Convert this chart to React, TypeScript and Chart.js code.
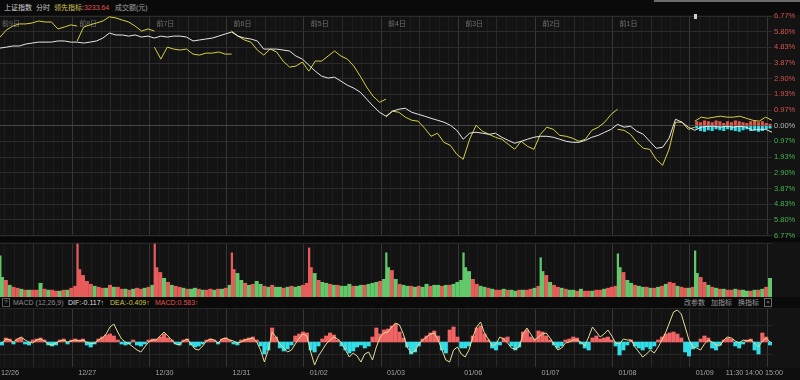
import React, { useEffect, useRef } from "react";
import { Chart, registerables } from "chart.js";

Chart.register(...registerables);

// ---------------- data ----------------
const DATES = ["12/26", "12/27", "12/30", "12/31", "01/02", "01/03", "01/06", "01/07", "01/08", "01/09"];
const DAY_TAGS = ["前9日", "前8日", "前7日", "前6日", "前5日", "前4日", "前3日", "前2日", "前1日"];
const TIME_LABELS = ["11:30", "14:00", "15:00"];
const TIME_LABEL_MIN = [2280, 2310, 2400];
const PCT_LABELS = ["6.77%", "5.80%", "4.83%", "3.87%", "2.90%", "1.93%", "0.97%", "0.00%", "0.97%", "1.93%", "2.90%", "3.87%", "4.83%", "5.80%", "6.77%"];
const PCT_MAX = 6.77;

// 上证指数 (white), % vs. reference close, one value every 20 minutes
const IDX_1226 = [4.79, 4.85, 4.92, 4.92, 5.04, 5.10, 5.16, 5.16, 5.16, 5.23, 5.23, 5.16];
const IDX_1227 = [5.16, 5.10, 5.16, 5.23, 5.41, 5.72, 5.60, 5.60, 5.53, 5.60, 5.47, 5.53];
const IDX_1230 = [5.41, 5.53, 5.47, 5.53, 5.53, 5.47, 5.23, 5.29, 5.35, 5.41, 5.53, 5.66];
const IDX_1231 = [5.78, 5.53, 5.41, 5.35, 5.23, 4.73, 4.73, 4.73, 4.67, 4.61, 4.30, 4.11];
const IDX_0102 = [3.74, 3.37, 3.06, 2.94, 3.00, 2.75, 2.50, 2.32, 2.07, 1.64, 1.21, 0.83];
const IDX_0103 = [0.59, 0.90, 1.02, 1.08, 0.83, 0.71, 0.59, 0.46, 0.34, 0.22, 0.03, -0.28];
const IDX_0106 = [-0.83, -0.46, -0.40, -0.46, -0.53, -0.46, -0.71, -0.90, -1.08, -0.96, -0.83, -0.71];
const IDX_0107 = [-0.65, -0.65, -0.71, -0.83, -0.96, -1.02, -1.02, -0.90, -0.71, -0.59, -0.40, -0.22];
const IDX_0108 = [0.09, -0.09, -0.03, -0.34, -0.53, -0.96, -1.39, -1.33, -0.77, 0.40, 0.22, -0.09];
const IDX_0109 = [-0.28, -0.09, -0.03, -0.03, -0.09, -0.03, -0.09, -0.03, -0.09, -0.28, -0.22, -0.22, -0.40];

// 领先指标 (yellow), one value every 20 minutes (incl. close)
const LEAD_1226 = [5.47, 5.91, 6.15, 6.28, 6.28, 6.34, 6.46, 6.40, 6.40, 5.97, 6.09, 6.22, 6.15];
const LEAD_1227 = [5.23, 6.09, 6.22, 6.34, 6.46, 6.72, 6.65, 6.52, 6.40, 6.15, 5.84, 5.97, 5.84];
const LEAD_1230 = [4.85, 4.11, 4.85, 4.73, 4.67, 4.73, 4.42, 4.36, 4.48, 4.48, 4.55, 4.42, 4.42];
const LEAD_1231 = [5.84, 5.53, 5.29, 5.16, 4.67, 4.36, 4.73, 4.55, 3.99, 3.62, 3.68, 3.93, 3.37];
const LEAD_0102 = [3.37, 3.99, 3.99, 4.30, 4.61, 4.30, 4.11, 3.68, 3.06, 2.38, 1.82, 1.45, 1.64];
const LEAD_0103 = [0.53, 0.90, 0.83, 0.53, 0.34, 0.28, -0.15, -0.65, -0.46, -1.02, -1.21, -1.76, -2.07];
const LEAD_0106 = [-2.07, -0.83, 0.03, -0.34, -0.53, -0.71, -0.83, -1.14, -1.45, -0.96, -1.27, -1.45, -0.53];
const LEAD_0107 = [-0.53, -0.09, -0.22, -0.59, -0.65, -0.77, -0.96, -0.83, -0.28, -0.09, 0.22, 0.71, 1.02];
const LEAD_0108 = [-0.22, -0.28, -0.53, -1.02, -1.39, -1.45, -2.07, -2.44, -1.45, 0.22, 0.22, -0.22, -0.09];
const LEAD_0109 = [0.28, 0.53, 0.46, 0.53, 0.59, 0.53, 0.53, 0.59, 0.46, 0.34, 0.28, 0.53, 0.34];

// today's red / cyan strength bars (every 12 minutes)
const TODAY_UP = [0.25, 0.2, 0.3, 0.25, 0.2, 0.3, 0.25, 0.15, 0.25, 0.2, 0.3, 0.25, 0.2, 0.15, 0.25, 0.3, 0.2, 0.25, 0.15, 0.1];
const TODAY_DN = [-0.15, -0.3, -0.35, -0.25, -0.3, -0.2, -0.25, -0.3, -0.2, -0.25, -0.3, -0.35, -0.25, -0.2, -0.3, -0.25, -0.35, -0.3, -0.2, -0.15];

// 成交额: opening-minute spike per day and 12-minute buckets
const VOL_OPEN = [42, 54, 54, 45, 50, 45, 45, 40, 44, 47];
const VOL_OPEN_UP = "0111100000";
const VOL_1226 = [20, 17, 12, 10, 9, 8, 7, 7, 7, 7, 14, 8, 7, 7, 6, 6, 7, 7, 9, 11];
const VOL_1227 = [28, 22, 16, 13, 11, 10, 9, 9, 12, 10, 10, 8, 8, 7, 8, 9, 8, 9, 10, 12];
const VOL_1230 = [30, 25, 19, 15, 12, 11, 10, 9, 8, 8, 9, 8, 7, 7, 8, 7, 8, 8, 9, 12];
const VOL_1231 = [28, 24, 17, 14, 12, 13, 16, 13, 11, 10, 12, 10, 10, 9, 10, 11, 10, 11, 12, 14];
const VOL_0102 = [30, 24, 17, 15, 14, 13, 12, 12, 11, 11, 13, 11, 11, 12, 12, 13, 14, 15, 16, 18];
const VOL_0103 = [30, 27, 18, 13, 12, 11, 11, 10, 11, 10, 13, 11, 12, 12, 11, 12, 12, 13, 15, 17];
const VOL_0106 = [30, 26, 18, 13, 11, 10, 9, 8, 7, 7, 8, 7, 7, 6, 7, 7, 7, 8, 9, 11];
const VOL_0107 = [26, 22, 15, 12, 10, 9, 8, 7, 7, 6, 8, 6, 6, 6, 7, 7, 8, 9, 10, 11];
const VOL_0108 = [30, 25, 17, 14, 12, 11, 10, 10, 9, 9, 10, 11, 13, 15, 14, 11, 10, 9, 9, 10];
const VOL_0109 = [24, 20, 15, 12, 10, 9, 8, 8, 7, 7, 8, 7, 7, 6, 6, 7, 7, 8, 10, 19];
const VOL_UP = [
  "01011010110101101011", "11110110101101011010", "11010110100101101010", "10010100101001010011",
  "10100101000100100010", "01010010100100101000", "00110010110100101101", "01011010010110110111",
  "01001001010101101101", "01101010110100101010",
];

// MACD histogram and signal line (every 12 minutes)
const HIST_1226 = [-3, 4, 3, -2, 3, 4, -2, -3, 2, 3, 4, 2, -3, -4, -3, 2, 3, -2, 2, 3];
const HIST_1227 = [2, 3, -3, -5, -2, 3, 5, 7, 8, 6, 2, -2, -3, -2, 2, -3, -4, -2, 2, 3];
const HIST_1230 = [3, 5, 8, 4, 2, -2, -3, 2, 3, -3, -5, -4, -2, 2, 3, 2, -2, 3, 4, 2];
const HIST_1231 = [-2, -3, 2, 3, 4, 5, 2, -4, -12, -8, 14, 5, -6, -9, -7, -3, 6, 8, 10, 9];
const HIST_0102 = [-8, -10, -4, 3, 6, 9, 7, 2, -4, -8, -11, -9, -5, -3, -6, -4, 5, 14, 8, 12];
const HIST_0103 = [13, 16, 18, 10, 4, -5, -12, -10, -4, 3, 6, 9, 11, 6, -8, -11, 12, 15, 5, -6];
const HIST_0106 = [-6, -4, 6, 14, 16, 8, 2, -6, -8, -3, 4, 5, -4, -8, -5, 10, 12, 5, 3, 11];
const HIST_0107 = [10, 6, 2, -3, -6, -4, 2, 3, 5, 4, -2, -6, -8, 4, 6, 3, 4, 5, 2, -4];
const HIST_0108 = [-13, -8, -3, 2, -4, -6, -8, -5, -7, -4, 2, 5, 8, 9, 10, 8, 4, -10, -14, -7];
const HIST_0109 = [-5, 3, 6, 4, -6, -8, -3, 2, 4, 3, -4, -6, -2, 2, 3, -8, -12, 9, 5, -3];

const SIG_1226 = [-1, 3, 2, 0, 3, 5, 2, 0, -1, 2, 3, 1, -2, -3, -1, 1, 2, 0, 1, 2];
const SIG_1227 = [1, 2, 0, -2, -1, 2, 4, 8, 15, 18, 10, 3, 0, -2, -5, -8, -10, -5, 0, 2];
const SIG_1230 = [2, 6, 10, 6, 2, -2, -3, 1, 3, -2, -7, -8, -4, 1, 3, 2, -1, 3, 4, 2];
const SIG_1231 = [1, -1, 0, 2, 3, 4, 0, -8, -20, -8, 10, 5, -2, -6, -10, -8, -2, 4, 8, 6];
const SIG_0102 = [-10, -23, -14, -8, -2, 2, 5, 3, -1, -8, -15, -11, -14, -20, -12, -10, -18, -5, 5, 9];
const SIG_0103 = [10, 15, 19, 17, 8, -5, -11, -9, -2, 2, 5, 8, 9, 2, -8, -18, -20, -8, -5, -12];
const SIG_0106 = [-15, -8, 5, 15, 20, 9, 3, -4, -2, 5, 3, -1, -6, -7, -5, 8, 14, 8, 2, 5];
const SIG_0107 = [8, 9, 4, -2, -8, -6, -1, 0, 2, 2, 0, -4, 5, 15, 10, 5, 8, 12, 6, -1];
const SIG_0108 = [-2, 3, 2, 2, -5, -10, -15, -12, -8, -11, -5, 2, 10, 20, 30, 32, 28, 15, 2, -5];
const SIG_0109 = [-6, -8, -2, 2, 0, -3, -4, 2, 5, 4, 1, -1, 2, 1, 2, -1, -5, 1, 4, 0];

// ---------------- layout / style ----------------
const DAY_MIN = 240;
const LINE_STEP = 20;
const BAR_STEP = 12;
const TOTAL_MIN = 2400;
const TIME_X_SHIFT = [-7.6, 2, -7];
const FONT = '"Liberation Sans", Arial, "Noto Sans CJK SC", sans-serif';
const BG_PANEL = "#131313";
const BG_BAND = "#0a0a0a";
const RED = "#e65c5a";
const GREEN = "#62c96a";
const CYAN = "#33dde8";
const AXIS_RED = "#d6524e";
const AXIS_GREEN = "#46b34f";

const IDX_DAYS = [IDX_1226, IDX_1227, IDX_1230, IDX_1231, IDX_0102, IDX_0103, IDX_0106, IDX_0107, IDX_0108, IDX_0109];
const LEAD_DAYS = [LEAD_1226, LEAD_1227, LEAD_1230, LEAD_1231, LEAD_0102, LEAD_0103, LEAD_0106, LEAD_0107, LEAD_0108, LEAD_0109];
const VOL_DAYS = [VOL_1226, VOL_1227, VOL_1230, VOL_1231, VOL_0102, VOL_0103, VOL_0106, VOL_0107, VOL_0108, VOL_0109];
const HIST_DAYS = [HIST_1226, HIST_1227, HIST_1230, HIST_1231, HIST_0102, HIST_0103, HIST_0106, HIST_0107, HIST_0108, HIST_0109];
const SIG_DAYS = [SIG_1226, SIG_1227, SIG_1230, SIG_1231, SIG_0102, SIG_0103, SIG_0106, SIG_0107, SIG_0108, SIG_0109];

const GRID_MIN: number[] = [];
for (let m = 0; m <= TOTAL_MIN; m += 30) GRID_MIN.push(m);

const tickVal = (c: any): number | null => (c && c.tick && typeof c.tick.value === "number" ? c.tick.value : null);

function vGridColor(c: any) {
  const v = tickVal(c);
  if (v === null) return "#363636";
  if (v % DAY_MIN === 0) return "#363636";
  if (v % 120 === 0) return "#2a2a2a";
  return "#1c1c1c";
}

function xScale() {
  return {
    type: "linear",
    min: 0,
    max: TOTAL_MIN,
    offset: false,
    afterBuildTicks: (s: any) => {
      s.ticks = GRID_MIN.map((v) => ({ value: v }));
    },
    afterFit: (s: any) => {
      s.height = 0;
    },
    ticks: { display: false },
    border: { display: false },
    grid: { drawTicks: false, color: vGridColor, lineWidth: 1 },
  };
}

function rightAxis(min: number, max: number, lines: number[]) {
  return {
    position: "right",
    min,
    max,
    stacked: false,
    afterBuildTicks: (s: any) => {
      s.ticks = lines.map((v) => ({ value: v }));
    },
    afterFit: (s: any) => {
      s.width = 28;
    },
    ticks: { display: false },
    border: { display: false },
    grid: { drawTicks: false, color: "#262626" },
  };
}

const baseOptions = {
  responsive: false,
  animation: false,
  events: [],
  plugins: { legend: { display: false }, tooltip: { enabled: false } },
};

const dayTagPlugin = {
  id: "dayTags",
  beforeDatasetsDraw(chart: any) {
    const { ctx, chartArea, scales } = chart;
    ctx.save();
    ctx.font = `7px ${FONT}`;
    ctx.fillStyle = "#707070";
    ctx.textBaseline = "middle";
    ctx.textAlign = "left";
    DAY_TAGS.forEach((t, d) => {
      ctx.fillText(t, scales.x.getPixelForValue(d * DAY_MIN) + 2, chartArea.top + 8);
    });
    ctx.restore();
  },
};

const xLabelPlugin = {
  id: "xLabels",
  afterDraw(chart: any) {
    const { ctx, chartArea, scales } = chart;
    const y = chartArea.bottom + 6;
    ctx.save();
    ctx.font = `7.2px ${FONT}`;
    ctx.fillStyle = "#a3a3a3";
    ctx.textBaseline = "middle";
    ctx.textAlign = "left";
    DATES.forEach((t, d) => {
      ctx.fillText(t, scales.x.getPixelForValue(d * DAY_MIN) + 1, y);
    });
    TIME_LABELS.forEach((t, i) => {
      ctx.fillText(t, scales.x.getPixelForValue(TIME_LABEL_MIN[i]) + TIME_X_SHIFT[i], y);
    });
    ctx.restore();
  },
};

function Txt(props: { x: number; y: number; color: string; size?: number; children: React.ReactNode }) {
  return (
    <div
      style={{
        position: "absolute",
        left: props.x,
        top: props.y - 5,
        height: 10,
        lineHeight: "10px",
        fontSize: props.size ?? 7,
        color: props.color,
        whiteSpace: "nowrap",
        fontFamily: FONT,
      }}
    >
      {props.children}
    </div>
  );
}

export default function App() {
  const priceRef = useRef<HTMLCanvasElement>(null);
  const volRef = useRef<HTMLCanvasElement>(null);
  const macdRef = useRef<HTMLCanvasElement>(null);

  useEffect(() => {
    const charts: Chart[] = [];

    // ---- price panel ----
    const idxPts: any[] = [];
    IDX_DAYS.forEach((arr, d) => arr.forEach((v, k) => idxPts.push({ x: d * DAY_MIN + k * LINE_STEP, y: v })));
    const leadPts: any[] = [];
    LEAD_DAYS.forEach((arr, d) => {
      if (d > 0) leadPts.push({ x: d * DAY_MIN, y: null });
      arr.forEach((v, k) => leadPts.push({ x: d * DAY_MIN + k * LINE_STEP, y: v }));
    });
    const todayStart = 9 * DAY_MIN;
    const upPts = TODAY_UP.map((v, k) => ({ x: todayStart + k * BAR_STEP + BAR_STEP / 2, y: v }));
    const dnPts = TODAY_DN.map((v, k) => ({ x: todayStart + k * BAR_STEP + BAR_STEP / 2, y: v }));
    const pctStep = PCT_MAX / 7;

    charts.push(
      new Chart(priceRef.current!, {
        type: "line",
        data: {
          datasets: [
            { type: "line", data: idxPts, borderColor: "#e6e6e6", borderWidth: 1, pointRadius: 0, tension: 0 },
            { type: "line", data: leadPts, borderColor: "#d9cf44", borderWidth: 1, pointRadius: 0, tension: 0, spanGaps: false },
            { type: "bar", data: upPts, backgroundColor: "#e0584c", barThickness: 2.4, stack: "s" },
            { type: "bar", data: dnPts, backgroundColor: CYAN, barThickness: 2.4, stack: "s" },
          ] as any,
        },
        options: {
          ...baseOptions,
          layout: { padding: { top: 16, bottom: 6, left: 0, right: 0 } },
          scales: {
            x: xScale() as any,
            y: {
              position: "right",
              min: -PCT_MAX,
              max: PCT_MAX,
              stacked: false,
              afterBuildTicks: (s: any) => {
                s.ticks = PCT_LABELS.map((_, i) => ({ value: PCT_MAX - i * pctStep }));
              },
              afterFit: (s: any) => {
                s.width = 28;
              },
              border: { display: false },
              grid: {
                drawTicks: false,
                color: (c: any) => {
                  const v = tickVal(c);
                  return v !== null && Math.abs(v) < 1e-6 ? "#474747" : "#2b2b2b";
                },
              },
              ticks: {
                autoSkip: false,
                padding: 2,
                font: { size: 7.5, family: FONT },
                color: (c: any) => {
                  const v = tickVal(c);
                  if (v === null) return "#b8b8b8";
                  return v > 1e-6 ? AXIS_RED : v < -1e-6 ? AXIS_GREEN : "#b8b8b8";
                },
                callback: (_v: any, i: number) => PCT_LABELS[i],
              },
            } as any,
          },
        } as any,
        plugins: [dayTagPlugin],
      })
    );

    // ---- volume panel ----
    const volPts: any[] = [];
    const volColors: string[] = [];
    VOL_DAYS.forEach((arr, d) =>
      arr.forEach((v, k) => {
        volPts.push({ x: d * DAY_MIN + k * BAR_STEP + BAR_STEP / 2, y: v });
        volColors.push(VOL_UP[d][k] === "1" ? RED : GREEN);
      })
    );
    const openPts = VOL_OPEN.map((v, d) => ({ x: d * DAY_MIN + 1, y: v }));
    const openColors = VOL_OPEN.map((_, d) => (VOL_OPEN_UP[d] === "1" ? RED : GREEN));

    charts.push(
      new Chart(volRef.current!, {
        type: "bar",
        data: {
          datasets: [
            { data: openPts, backgroundColor: openColors, barThickness: 1.6, stack: "s" },
            { data: volPts, backgroundColor: volColors, barThickness: 3.4, stack: "s" },
          ] as any,
        },
        options: {
          ...baseOptions,
          layout: { padding: { top: 1, bottom: 0, left: 0, right: 0 } },
          scales: {
            x: xScale() as any,
            y: rightAxis(0, 55, [55]) as any,
          },
        } as any,
      })
    );

    // ---- MACD panel ----
    const histPts: any[] = [];
    const sigPts: any[] = [];
    HIST_DAYS.forEach((arr, d) =>
      arr.forEach((v, k) => histPts.push({ x: d * DAY_MIN + k * BAR_STEP + BAR_STEP / 2, y: v }))
    );
    SIG_DAYS.forEach((arr, d) =>
      arr.forEach((v, k) => sigPts.push({ x: d * DAY_MIN + k * BAR_STEP + BAR_STEP / 2, y: v }))
    );

    charts.push(
      new Chart(macdRef.current!, {
        type: "bar",
        data: {
          datasets: [
            { type: "line", data: sigPts, borderColor: "#e4dc96", borderWidth: 1, pointRadius: 0, tension: 0 },
            {
              type: "bar",
              data: histPts,
              backgroundColor: histPts.map((p) => (p.y >= 0 ? "#f06464" : CYAN)),
              barThickness: 3.4,
              stack: "s",
            },
          ] as any,
        },
        options: {
          ...baseOptions,
          layout: { padding: { top: 0, bottom: 13, left: 0, right: 0 } },
          scales: {
            x: xScale() as any,
            y: rightAxis(-25, 34, [34, 17, -12]) as any,
          },
        } as any,
        plugins: [xLabelPlugin],
      })
    );

    return () => charts.forEach((c) => c.destroy());
  }, []);

  const canvasStyle = (top: number, h: number): React.CSSProperties => ({
    position: "absolute",
    left: 0,
    top,
    width: 800,
    height: h,
    display: "block",
  });

  return (
    <div
      style={{
        position: "fixed",
        left: 0,
        top: 0,
        width: 800,
        height: 380,
        background: BG_PANEL,
        overflow: "hidden",
        fontFamily: FONT,
      }}
    >
      {/* bands */}
      <div style={{ position: "absolute", left: 0, top: 0, width: 800, height: 15, background: BG_BAND }} />
      <div style={{ position: "absolute", left: 654, top: 0, width: 146, height: 2, background: "#6a6a6a" }} />
      <div style={{ position: "absolute", left: 0, top: 237, width: 800, height: 5, background: "#080808" }} />
      <div style={{ position: "absolute", left: 0, top: 297, width: 800, height: 11, background: BG_BAND }} />
      <div style={{ position: "absolute", left: 0, top: 368, width: 800, height: 12, background: "#0e0e0e" }} />

      {/* header */}
      <Txt x={4} y={8} color="#d2d2d2">上证指数</Txt>
      <Txt x={36} y={8} color="#c4c4c4">分时</Txt>
      <Txt x={54} y={8} color="#cfc257">
        领先指标:<span style={{ color: "#e25252" }}>3233.64</span>
      </Txt>
      <Txt x={115} y={8} color="#a2a2a2">成交额(元)</Txt>

      {/* MACD legend band */}
      <div
        style={{
          position: "absolute",
          left: 2,
          top: 298,
          width: 6,
          height: 7,
          border: "1px solid #5a5a5a",
          color: "#8a8a8a",
          fontSize: 6,
          lineHeight: "7px",
          textAlign: "center",
          fontFamily: FONT,
        }}
      >
        ?
      </div>
      <Txt x={13} y={302.5} color="#8c8c8c">MACD (12,26,9)</Txt>
      <Txt x={68} y={302.5} color="#dedede">DIF:-0.117↑</Txt>
      <Txt x={110} y={302.5} color="#d4c84c">DEA:-0.409↑</Txt>
      <Txt x={155} y={302.5} color="#e05050">MACD:0.583↑</Txt>
      <Txt x={684} y={302.5} color="#9a9a9a">改参数</Txt>
      <Txt x={711} y={302.5} color="#9a9a9a">加指标</Txt>
      <Txt x={738} y={302.5} color="#9a9a9a">换指标</Txt>
      <div
        style={{
          position: "absolute",
          left: 764,
          top: 298,
          width: 6,
          height: 7,
          border: "1px solid #6a6a6a",
          color: "#9a9a9a",
          fontSize: 6,
          lineHeight: "7px",
          textAlign: "center",
          fontFamily: FONT,
        }}
      >
        ×
      </div>

      <canvas ref={priceRef} width={800} height={242} style={canvasStyle(0, 242)} />
      <canvas ref={volRef} width={800} height={55} style={canvasStyle(242, 55)} />
      <canvas ref={macdRef} width={800} height={72} style={canvasStyle(308, 72)} />

      {/* today marker */}
      <div style={{ position: "absolute", left: 694, top: 14, width: 3, height: 5, background: "#cfcfcf" }} />
    </div>
  );
}
